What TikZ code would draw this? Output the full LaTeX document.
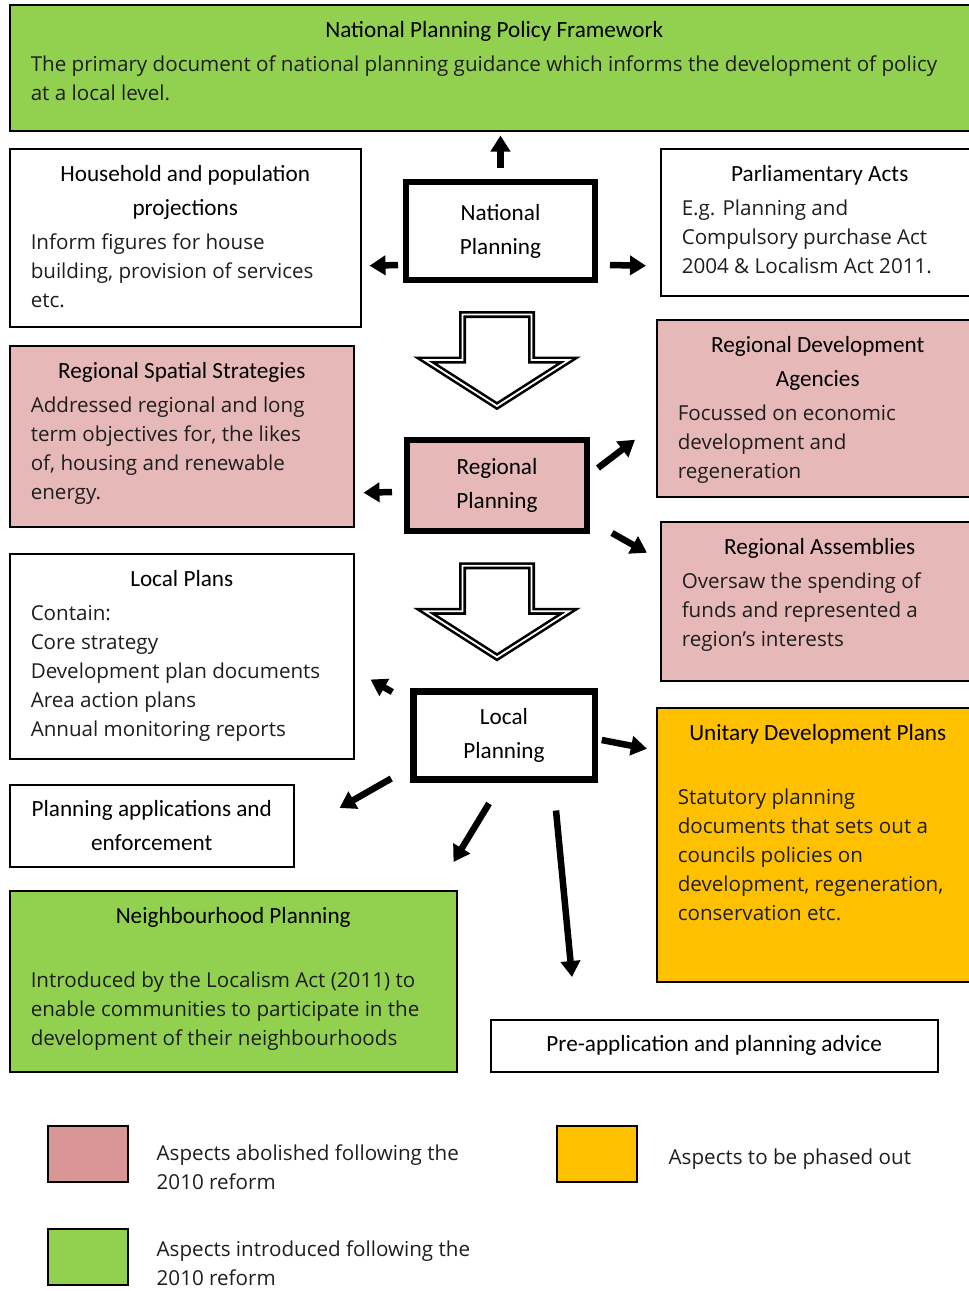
\documentclass[tikz,border=0pt]{standalone}
\usepackage{fontspec}
\setmainfont{Open Sans}
\newfontfamily\titlefont{Carlito}
\usetikzlibrary{arrows.meta,calc,positioning}

\definecolor{policygreen}{HTML}{92D050}
\definecolor{abolishpink}{HTML}{E6B9B8}
\definecolor{legendpink}{HTML}{D99694}
\definecolor{phaseorange}{HTML}{FFC000}
\definecolor{bodyink}{HTML}{1E1E1E}

\newcommand{\ttl}{\titlefont\fontsize{23.2}{34}\selectfont}
\newcommand{\bdy}{\fontsize{20.6}{29}\selectfont\color{bodyink}}
\newcommand{\boxtext}[5][5pt]{\parbox[t][#3][t]{#2}{{\centering\ttl\rule{0pt}{33pt}#4\par}\vspace{#1}{\raggedright\bdy #5\par}}}

\tikzset{
  infobox/.style={draw, line width=1.5pt, anchor=north west, inner xsep=21pt, inner ysep=0pt},
  plainbox/.style={draw, line width=1.5pt, anchor=north west, align=center, font=\ttl, inner sep=0pt},
  hub/.style={draw, line width=6.5pt, outer sep=0pt, align=center, font=\ttl, inner sep=0pt},
  swatch/.style={draw, line width=1.5pt, anchor=north west, minimum width=80pt, minimum height=56pt, inner sep=0pt},
  legtext/.style={anchor=north west, align=left, font=\bdy, inner sep=0pt},
  blk/.style={line width=6.5pt, -{Triangle[length=16pt,width=19pt]}},
  hollow/.style={draw, fill=white, line width=2.6pt, double=white, double distance=1.8pt},
  downarrow/.pic={\draw[hollow] (-34.5,-45.5) -- (34.5,-45.5) -- (34.5,0) -- (72,0) -- (0,46) -- (-72,0) -- (-34.5,0) -- cycle;}
}

\begin{document}
\begin{tikzpicture}[x=1pt,y=-1pt]
\useasboundingbox (0,0) rectangle (969,1291);

\node[infobox, fill=policygreen] (nppf) at (9,4) {\boxtext{927pt}{126pt}{National Planning Policy Framework}{The primary document of national planning guidance which informs the development of policy\\at a local level.}};
\node[infobox] (house) at (9,148) {\boxtext{309pt}{178pt}{Household and population\\projections}{Inform figures for house\\building, provision of services\\etc.}};
\node[infobox] (parl) at (660,148) {\boxtext{276pt}{147pt}{Parliamentary Acts}{E.g. Planning and\\Compulsory purchase Act\\2004 \& Localism Act 2011.}};
\node[infobox, fill=abolishpink] (rss) at (9,345) {\boxtext{302pt}{181pt}{Regional Spatial Strategies}{Addressed regional and long\\term objectives for, the likes\\of, housing and renewable\\energy.}};
\node[infobox, fill=abolishpink] (rda) at (656,319) {\boxtext{280pt}{177pt}{Regional Development\\Agencies}{Focussed on economic\\development and\\regeneration}};
\node[infobox, fill=abolishpink] (ra) at (660,521) {\boxtext{276pt}{159pt}{Regional Assemblies}{Oversaw the spending of\\funds and represented a\\region’s interests}};
\node[infobox] (lplans) at (9,553) {\boxtext{302pt}{205pt}{Local Plans}{Contain:\\Core strategy\\Development plan documents\\Area action plans\\Annual monitoring reports}};
\node[infobox, fill=phaseorange] (udp) at (656,707) {\boxtext[35pt]{280pt}{274pt}{Unitary Development Plans}{Statutory planning\\documents that sets out a\\councils policies on\\development, regeneration,\\conservation etc.}};
\node[infobox, fill=policygreen] (nbh) at (9,890) {\boxtext[35pt]{405pt}{181pt}{Neighbourhood Planning}{Introduced by the Localism Act (2011) to\\enable communities to participate in the\\development of their neighbourhoods}};
\node[plainbox, minimum width=284pt, minimum height=82pt] (papp) at (9,784) {Planning applications and\\enforcement};
\node[plainbox, minimum width=447pt, minimum height=52pt] (pre) at (490,1019) {Pre-application and planning advice};

\node[hub, fill=white, minimum width=189pt, minimum height=98pt] (natl) at (500.5,231) {National\\Planning};
\node[hub, fill=abolishpink, minimum width=180pt, minimum height=91pt] (reg) at (497,485.5) {Regional\\Planning};
\node[hub, fill=white, minimum width=181.5pt, minimum height=88pt] (loc) at (504,735.5) {Local\\Planning};

\coordinate (mid1) at ($(natl.south)!0.5!(reg.north)$);
\coordinate (mid2) at ($(reg.south)!0.5!(loc.north)$);
\pic at (mid1 -| reg.north) {downarrow};
\pic at (mid2 -| reg.south) {downarrow};

\draw[blk] ($(natl.north)+(0,-14)$) -- ($(natl.north |- nppf.south)+(0,4)$);
\draw[blk] ($(natl.west)+(-8,34)$) -- ($(house.east)+(8,28)$);
\draw[blk] ($(natl.east)+(15,34)$) -- ($(parl.west)+(-14,43.5)$);
\draw[blk] ($(reg.west)+(-15,6.5)$) -- ($(rss.east)+(9,56.5)$);
\draw[blk] ($(reg.east)+(11,-17.5)$) -- ($(rda.west)+(-21,31.5)$);
\draw[blk] ($(reg.south east)+(25,2)$) -- ($(ra.west)+(-13,-48.5)$);
\draw[blk] ($(loc.north west)+(-21,0.5)$) -- ($(lplans.south east)+(16,-80)$);
\draw[blk] ($(loc.east)+(7,4.5)$) -- ($(udp.west)+(-9,-96)$);
\draw[blk] ($(loc.south west)+(-22,-1)$) -- ($(papp.north east)+(45,24)$);
\draw[blk] ($(loc.south)+(-15,24)$) -- ($(nbh.north east)+(-4,-28)$);
\draw[blk] ($(loc.south)+(52,31)$) -- ($(pre.north west)+(82,-42)$);

\node[swatch, fill=legendpink] (legab) at (47,1125) {};
\node[swatch, fill=phaseorange] (legph) at (556,1125) {};
\node[swatch, fill=policygreen] (legin) at (47,1228) {};
\node[legtext] (legabt) at ($(legab.north east)+(28,20)$) {Aspects abolished following the\\2010 reform};
\node[legtext] (legpht) at ($(legph.north east)+(31,24)$) {Aspects to be phased out};
\node[legtext] (legint) at ($(legin.north east)+(28,13)$) {Aspects introduced following the\\2010 reform};
\end{tikzpicture}
\end{document}
